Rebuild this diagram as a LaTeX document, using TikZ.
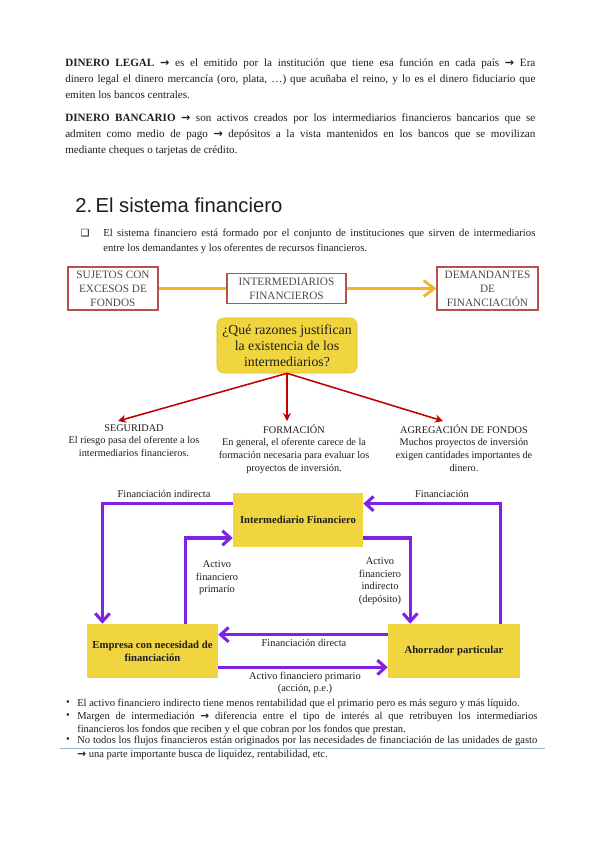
\documentclass[tikz,border=0pt]{standalone}
\usepackage{fontspec}
\setmainfont{Liberation Serif}
\newfontfamily\headfont{Liberation Sans}
\newfontfamily\symfont{DejaVu Sans}
\usetikzlibrary{arrows.meta,calc}
\definecolor{frame}{HTML}{B5524C}
\definecolor{gold}{HTML}{F0B429}
\definecolor{sun}{HTML}{F0D541}
\definecolor{sunedge}{HTML}{E2BE2A}
\definecolor{wine}{HTML}{C00000}
\definecolor{grape}{HTML}{7F22E6}
\definecolor{ink}{HTML}{1E1E1E}
\definecolor{softgray}{HTML}{4A4A4A}
\definecolor{rulecol}{HTML}{9DB3DD}
\newcommand{\flecha}{{\symfont\bfseries →}}
\tikzset{
  paratext/.style={anchor=north west,align=justify,inner sep=0pt,text=ink,
    font=\fontsize{7.9}{11.4}\selectfont},
  listtext/.style={anchor=north west,align=justify,inner sep=0pt,text=ink,
    text width=11.5cm,font=\fontsize{7.5}{8.9}\selectfont},
  bulletmark/.style={anchor=base,inner sep=0pt,text=ink,font=\fontsize{7.5}{8.9}\selectfont},
  topbox/.style={draw=frame,line width=0.8pt,align=center,text=softgray,
    inner sep=1pt,font=\fontsize{8}{10}\selectfont},
  question/.style={draw=sunedge,fill=sun,rounded corners=5pt,align=center,
    text=ink,inner sep=1pt,font=\fontsize{9.8}{11.4}\selectfont},
  reason/.style={anchor=north,align=center,inner sep=0pt,text=ink,
    font=\fontsize{7.3}{9}\selectfont},
  flowbox/.style={fill=sun,align=center,text=ink,inner sep=1pt,
    font=\bfseries\fontsize{7.6}{9.3}\selectfont},
  labelstyle/.style={align=center,inner sep=1pt,text=ink,font=\fontsize{7.4}{8.9}\selectfont},
  goldline/.style={draw=gold,line width=2pt},
  redarrow/.style={-{Stealth[length=2mm,width=2mm]},draw=wine,line width=1.1pt},
  flowarrow/.style={-{Straight Barb[length=2mm,width=3.6mm]},draw=grape,line width=2.2pt}
}
\begin{document}
\begin{tikzpicture}[x=0.025cm,y=-0.025cm]
\useasboundingbox (0,0) rectangle (600,848);
\fill[white] (0,0) rectangle (600,848);

\node[paratext,text width=11.75cm] (legal) at (65,58) {\textbf{DINERO LEGAL} \flecha{} es el emitido por la institución que tiene esa función en cada país \flecha{} Era\linebreak dinero legal el dinero mercancía (oro, plata, …) que acuñaba el reino, y lo es el dinero fiduciario que\linebreak emiten los bancos centrales.};
\node[paratext,text width=11.75cm] (banc) at (65,113) {\textbf{DINERO BANCARIO} \flecha{} son activos creados por los intermediarios financieros bancarios que se\linebreak admiten como medio de pago \flecha{} depósitos a la vista mantenidos en los bancos que se movilizan\linebreak mediante cheques o tarjetas de crédito.};

\node[anchor=base west,inner sep=0pt,text=ink,font=\headfont\fontsize{14.4}{18}\selectfont] (title) at (75,212) {2.\,El sistema financiero};
\node[anchor=base,inner sep=0pt,font=\symfont\fontsize{7}{8}\selectfont] (sq) at (85,236) {❑};
\node[paratext,text width=10.8cm,font=\fontsize{7.6}{10.7}\selectfont] (intro) at (103,229) {El sistema financiero está formado por el conjunto de instituciones que sirven de intermediarios\linebreak entre los demandantes y los oferentes de recursos financieros.};

\node[topbox,minimum width=2.25cm,minimum height=1.075cm] (suj) at (113,288.5) {SUJETOS CON\\EXCESOS DE\\FONDOS};
\node[topbox,minimum width=2.975cm,minimum height=0.75cm] (inter) at (286.5,288.5) {INTERMEDIARIOS\\FINANCIEROS};
\node[topbox,minimum width=2.525cm,minimum height=1.075cm] (dem) at (487.5,288.5) {DEMANDANTES\\DE\\FINANCIACIÓN};
\draw[goldline] (suj) -- (inter);
\draw[goldline,-{Straight Barb[length=2.6mm,width=4mm]}] (inter) -- (dem);

\node[question,minimum width=3.5cm,minimum height=1.375cm] (preg) at (287,345.5) {¿Qué razones justifican\\la existencia de los\\intermediarios?};

\node[reason] (seg) at (134,424) {SEGURIDAD\\El riesgo pasa del oferente a los\\intermediarios financieros.};
\node[reason] (form) at (294,424) {FORMACIÓN\\En general, el oferente carece de la\\formación necesaria para evaluar los\\proyectos de inversión.};
\node[reason] (agr) at (464,424) {AGREGACIÓN DE FONDOS\\Muchos proyectos de inversión\\exigen cantidades importantes de\\dinero.};
\draw[redarrow] (preg.south) -- ($(seg.north)+(-16,-3)$);
\draw[redarrow] (preg.south) -- ($(form.north)+(-7,-3)$);
\draw[redarrow] (preg.south) -- ($(agr.north)+(-21,-3)$);

\node[flowbox,minimum width=3.25cm,minimum height=1.35cm] (ifin) at (298,520) {Intermediario Financiero};
\node[flowbox,minimum width=3.275cm,minimum height=1.35cm] (emp) at (152.5,651) {Empresa con necesidad de\\financiación};
\node[flowbox,minimum width=3.3cm,minimum height=1.35cm] (aho) at (454,651) {Ahorrador particular};

\draw[flowarrow] ($(ifin.north west)!0.2!(ifin.south west)$) -| ($(emp.north west)!0.12!(emp.north east)$);
\draw[flowarrow] ($(aho.north west)!0.85!(aho.north east)$) |- ($(ifin.north east)!0.2!(ifin.south east)$);
\draw[flowarrow] ($(emp.north west)!0.75!(emp.north east)$) |- ($(ifin.north west)!0.83!(ifin.south west)$);
\draw[flowarrow] ($(ifin.north east)!0.83!(ifin.south east)$) -| ($(aho.north west)!0.17!(aho.north east)$);
\draw[flowarrow] ($(aho.north west)!0.2!(aho.south west)$) -- ($(emp.north east)!0.2!(emp.south east)$);
\draw[flowarrow] ($(emp.north east)!0.8!(emp.south east)$) -- ($(aho.north west)!0.8!(aho.south west)$);

\node[labelstyle] (lfi) at (164,494) {Financiación indirecta};
\node[labelstyle] (lf) at (442,494) {Financiación};
\node[labelstyle] (lafp) at (217,578) {Activo\\financiero\\primario};
\node[labelstyle] (lafi) at (380,581) {Activo\\financiero\\indirecto\\(depósito)};
\node[labelstyle] (lfd) at (304,643) {Financiación directa};
\node[labelstyle] (lacc) at (305,683) {Activo financiero primario\\(acción, p.e.)};

\node[bulletmark] (b1) at (68,705) {•};
\node[listtext] (t1) at (77,699) {El activo financiero indirecto tiene menos rentabilidad que el primario pero es más seguro y más líquido.};
\node[bulletmark] (b2) at (68,718) {•};
\node[listtext] (t2) at (77,712) {Margen de intermediación \flecha{} diferencia entre el tipo de interés al que retribuyen los intermediarios\linebreak financieros los fondos que reciben y el que cobran por los fondos que prestan.};
\node[bulletmark] (b3) at (68,742) {•};
\node[listtext,font=\fontsize{7.5}{10}\selectfont] (t3) at (77,736) {No todos los flujos financieros están originados por las necesidades de financiación de las unidades de gasto\linebreak \flecha{} una parte importante busca de liquidez, rentabilidad, etc.};
\draw[rulecol,line width=0.6pt] (60,748) -- (545,748);
\end{tikzpicture}
\end{document}
